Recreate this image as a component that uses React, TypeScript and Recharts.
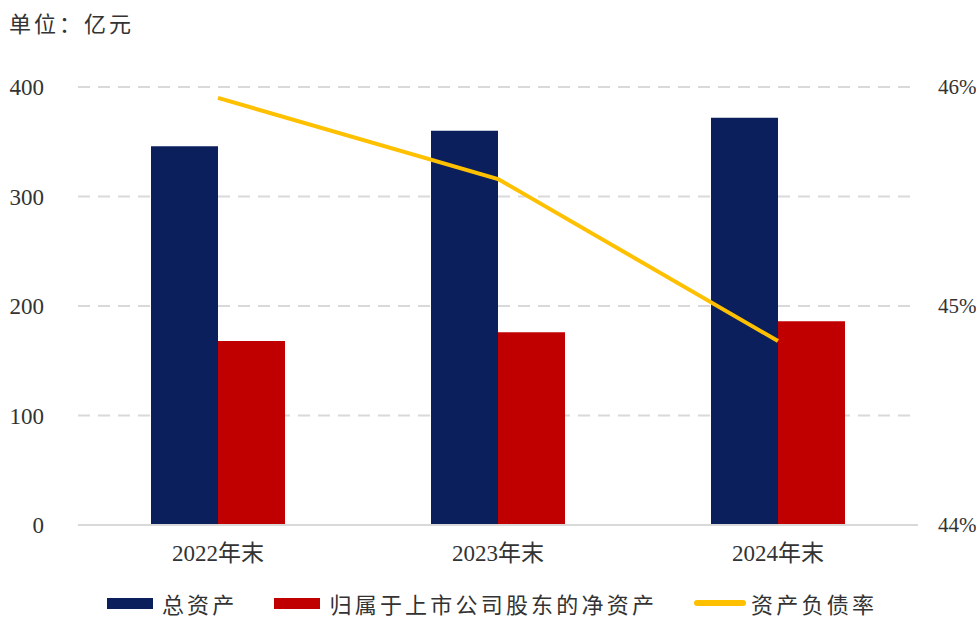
import { ComposedChart, Bar, Line, XAxis, YAxis, CartesianGrid, Legend } from "recharts";

const years = ["2022年末", "2023年末", "2024年末"];
const totalAssets = [346, 360, 372];
const netAssets = [168, 176, 186];
const debtRatio = [0.4595, 0.4558, 0.4484];

const leftTicks = [0, 100, 200, 300, 400];
const rightTicks = [0.44, 0.45, 0.46];

const data = years.map((y, i) => ({
  year: y,
  total: totalAssets[i],
  net: netAssets[i],
  ratio: debtRatio[i],
}));

const FONT = '"Liberation Serif", "Noto Sans CJK SC", serif';
const CJK = '"Noto Sans CJK SC", sans-serif';

const legendItems = [
  { name: "总资产", color: "#0B1F5C", type: "rect" },
  { name: "归属于上市公司股东的净资产", color: "#C00000", type: "rect" },
  { name: "资产负债率", color: "#FFC000", type: "line" },
];

const CustomLegend = () => (
  <div style={{ display: "flex", justifyContent: "center", alignItems: "center", gap: 37, fontFamily: CJK, fontSize: 22, lineHeight: "32px", letterSpacing: 3.2, color: "#333", height: 32, marginLeft: 8 }}>
    {legendItems.map((it) => (
      <div key={it.name} style={{ display: "flex", alignItems: "center" }}>
        {it.type === "rect" ? (
          <span style={{ width: 46, height: 11, background: it.color, marginRight: 9 }} />
        ) : (
          <span style={{ width: 52, height: 6, borderRadius: 3, background: it.color, marginRight: 5 }} />
        )}
        <span>{it.name}</span>
      </div>
    ))}
  </div>
);

export default function App() {
  return (
    <div style={{ position: "absolute", left: 0, top: 0, width: 976, height: 619, background: "#fff" }}>
      <div style={{ position: "absolute", left: 9, top: 6, fontFamily: CJK, fontSize: 22, letterSpacing: 3, color: "#333", lineHeight: "32px" }}>
        单位：亿元
      </div>
      <ComposedChart width={976} height={619} data={data} margin={{ top: 87, right: 0, bottom: 0, left: 0 }} barGap={0} barSize={67}>
        <CartesianGrid yAxisId="left" vertical={false} stroke="#D9D9D9" strokeDasharray="12 8" strokeWidth={2} />
        <XAxis
          dataKey="year"
          axisLine={{ stroke: "#D9D9D9", strokeWidth: 2 }}
          tickLine={false}
          tick={{ fill: "#333", fontSize: 23, fontFamily: FONT }}
          tickMargin={14}
          height={62}
        />
        <YAxis
          yAxisId="left"
          domain={[0, 400]}
          ticks={leftTicks}
          axisLine={false}
          tickLine={false}
          tickSize={0}
          tickMargin={34}
          width={78}
          tick={{ fill: "#333", fontSize: 23, fontFamily: FONT }}
        />
        <YAxis
          yAxisId="right"
          orientation="right"
          domain={[0.44, 0.46]}
          ticks={rightTicks}
          axisLine={false}
          tickLine={false}
          tickSize={0}
          tickMargin={20}
          width={58}
          tickFormatter={(v: number) => `${Math.round(v * 100)}%`}
          tick={{ fill: "#333", fontSize: 21, fontFamily: FONT, textAnchor: "start" }}
        />
        <Legend content={<CustomLegend />} verticalAlign="bottom" height={32} wrapperStyle={{ bottom: 0 }} />
        <Bar yAxisId="left" dataKey="total" name="总资产" fill="#0B1F5C" isAnimationActive={false} />
        <Bar yAxisId="left" dataKey="net" name="归属于上市公司股东的净资产" fill="#C00000" isAnimationActive={false} />
        <Line yAxisId="right" dataKey="ratio" name="资产负债率" stroke="#FFC000" strokeWidth={4} dot={false} type="linear" isAnimationActive={false} />
      </ComposedChart>
    </div>
  );
}
